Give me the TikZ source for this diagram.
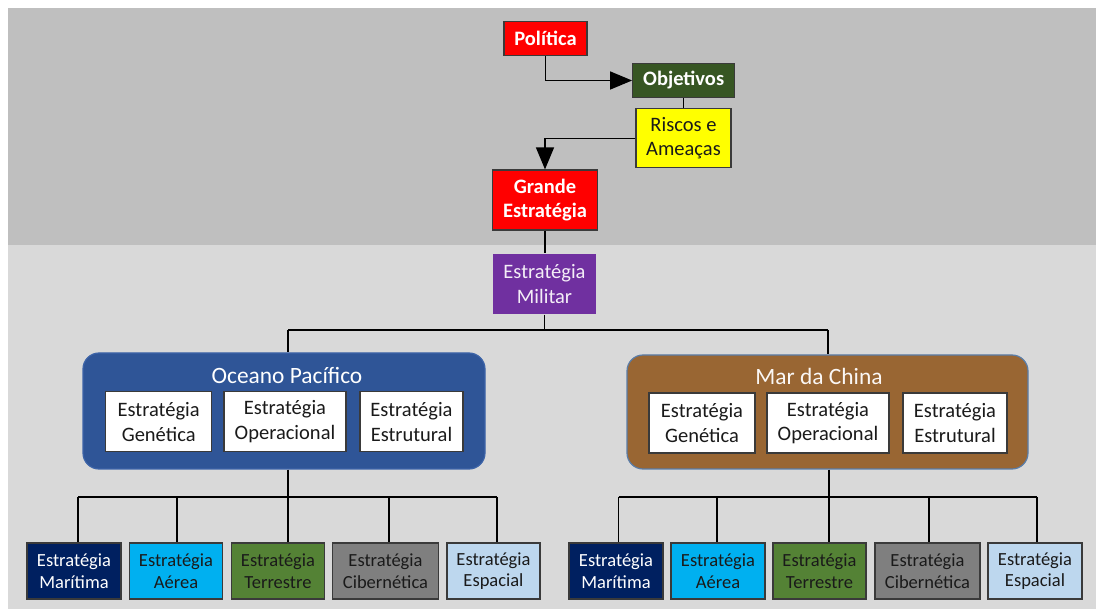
\documentclass[tikz,border=0pt]{standalone}
\usepackage{fontspec}
\setmainfont{Carlito}
\usetikzlibrary{arrows.meta}
\definecolor{bgtop}{HTML}{BFBFBF}
\definecolor{bgbot}{HTML}{D9D9D9}
\definecolor{cred}{HTML}{FF0000}
\definecolor{cobj}{HTML}{375623}
\definecolor{cyel}{HTML}{FFFF00}
\definecolor{cmil}{HTML}{7030A0}
\definecolor{coce}{HTML}{2F5597}
\definecolor{coceb}{HTML}{3D64A8}
\definecolor{cmar}{HTML}{996633}
\definecolor{cmarb}{HTML}{5A7DA8}
\definecolor{cmari}{HTML}{002060}
\definecolor{caer}{HTML}{00B0F0}
\definecolor{cter}{HTML}{548235}
\definecolor{ccib}{HTML}{7F7F7F}
\definecolor{cesp}{HTML}{BDD7EE}
\definecolor{bord}{HTML}{3A3A3A}
\definecolor{dtext}{HTML}{1A1A1A}
\tikzset{
  topbox/.style={draw=bord, line width=1.2pt, inner sep=0pt, align=center,
    font=\fontsize{20.5}{24.7}\selectfont},
  inbox/.style={draw=bord, line width=1.2pt, fill=white, inner sep=0pt, align=center,
    minimum height=60pt, text=dtext, font=\fontsize{20.5}{24.7}\selectfont},
  botbox/.style={draw=bord, line width=1.2pt, inner sep=0pt, align=center,
    minimum height=56pt, text=dtext, font=\fontsize{18.5}{21.5}\selectfont},
  cont/.style={rounded corners=16pt, line width=1.2pt, inner sep=0pt},
  conn/.style={line width=1.4pt, draw=black},
  arr/.style={conn, -{Triangle[length=22pt,width=18pt]}},
  ttl/.style={font=\fontsize{23.4}{28}\selectfont, inner sep=0pt}
}
\begin{document}
\begin{tikzpicture}[x=1pt,y=-1pt]
\useasboundingbox (0,0) rectangle (1096,609);
\fill[white] (0,0) rectangle (1096,609);
\fill[bgtop] (8,8) rectangle (1096,245);
\fill[bgbot] (8,245) rectangle (1096,609);

% top chain
\node[topbox, fill=cred, text=white, minimum width=83pt, minimum height=34pt, font=\fontsize{20.5}{24.7}\selectfont\bfseries] (pol) at (545.5,38.7) {Política};
\node[topbox, fill=cobj, text=white, minimum width=102pt, minimum height=34pt, font=\fontsize{20.5}{24.7}\selectfont\bfseries] (obj) at (683.7,80.5) {Objetivos};
\node[topbox, fill=cyel, text=dtext, minimum width=95pt, minimum height=59pt] (ris) at (683.5,138.3) {Riscos e\\Ameaças};
\node[topbox, fill=cred, text=white, minimum width=105pt, minimum height=60pt, font=\fontsize{20.5}{24.7}\selectfont\bfseries] (gra) at (545,200) {Grande\\Estratégia};
\node[topbox, draw=none, fill=cmil, text=white!92!cmil, minimum width=103pt, minimum height=60pt] (mil) at (544.5,284) {Estratégia\\Militar};

\draw[arr] (pol.south) |- (obj.west);
\draw[conn] (obj.south) -- (obj.south |- ris.north);
\draw[arr] (ris.west) -| (gra.north);
\draw[conn] (gra.south) -- (gra.south |- mil.north);

% containers
\node[cont, fill=coce, draw=coceb, minimum width=402pt, minimum height=116pt] (oc) at (284,411) {};
\node[ttl, text=white] (octl) at (287,375) {Oceano Pacífico};
\node[inbox, minimum width=106pt] (g1) at (158.7,421.7) {Estratégia\\Genética};
\node[inbox, minimum width=122pt] (o1) at (285,421.7) {Estratégia\\Operacional};
\node[inbox, minimum width=103pt] (e1) at (411.5,421.7) {Estratégia\\Estrutural};

\node[cont, fill=cmar, draw=cmarb, minimum width=401pt, minimum height=114pt] (mc) at (827.5,412) {};
\node[ttl, text=white!95!cmar] (mctl) at (819,376) {Mar da China};
\node[inbox, minimum width=106pt] (g2) at (702,423) {Estratégia\\Genética};
\node[inbox, minimum width=122pt] (o2) at (828,423) {Estratégia\\Operacional};
\node[inbox, minimum width=104pt] (e2) at (955,423) {Estratégia\\Estrutural};

% bottom boxes left
\node[botbox, fill=cmari, text=white, minimum width=94pt] (m1) at (74,571) {Estratégia\\Marítima};
\node[botbox, fill=caer, minimum width=93pt] (a1) at (176,571) {Estratégia\\Aérea};
\node[botbox, fill=cter, minimum width=93pt] (t1) at (278,571) {Estratégia\\Terrestre};
\node[botbox, fill=ccib, minimum width=105.5pt] (c1) at (385.5,571) {Estratégia\\Cibernética};
\node[botbox, fill=cesp, minimum width=93pt] (s1) at (493.5,571) {Estratégia\\Espacial};
% bottom boxes right
\node[botbox, fill=cmari, text=white, minimum width=94pt] (m2) at (616,571) {Estratégia\\Marítima};
\node[botbox, fill=caer, minimum width=94pt] (a2) at (718,571) {Estratégia\\Aérea};
\node[botbox, fill=cter, minimum width=93pt] (t2) at (819.5,571) {Estratégia\\Terrestre};
\node[botbox, fill=ccib, minimum width=105pt] (c2) at (927.5,571) {Estratégia\\Cibernética};
\node[botbox, fill=cesp, minimum width=94pt] (s2) at (1035,571) {Estratégia\\Espacial};

% military bus
\coordinate (busA) at (288,330);
\coordinate (busB) at (828,330);
\draw[conn] (busA) -- (busB);
\draw[conn] (mil.south) -- (mil.south |- busA);
\draw[conn] (busA) -- (busA |- oc.north);
\draw[conn] (busB) -- (busB |- mc.north);

% left bottom bus
\coordinate (l1) at (78,497);
\coordinate (l2) at (177,497);
\coordinate (l3) at (288,497);
\coordinate (l4) at (389,497);
\coordinate (l5) at (497,497);
\draw[conn] (l1) -- (l5);
\draw[conn] (l3 |- oc.south) -- (l3);
\draw[conn] (l1) -- (l1 |- m1.north);
\draw[conn] (l2) -- (l2 |- a1.north);
\draw[conn] (l3) -- (l3 |- t1.north);
\draw[conn] (l4) -- (l4 |- c1.north);
\draw[conn] (l5) -- (l5 |- s1.north);

% right bottom bus
\coordinate (r1) at (618.5,497);
\coordinate (r2) at (717,497);
\coordinate (r3) at (829,497);
\coordinate (r4) at (929,497);
\coordinate (r5) at (1037,497);
\draw[conn] (r1) -- (r5);
\draw[conn] (r3 |- mc.south) -- (r3);
\draw[conn] (r1) -- (r1 |- m2.north);
\draw[conn] (r2) -- (r2 |- a2.north);
\draw[conn] (r3) -- (r3 |- t2.north);
\draw[conn] (r4) -- (r4 |- c2.north);
\draw[conn] (r5) -- (r5 |- s2.north);
\end{tikzpicture}
\end{document}
